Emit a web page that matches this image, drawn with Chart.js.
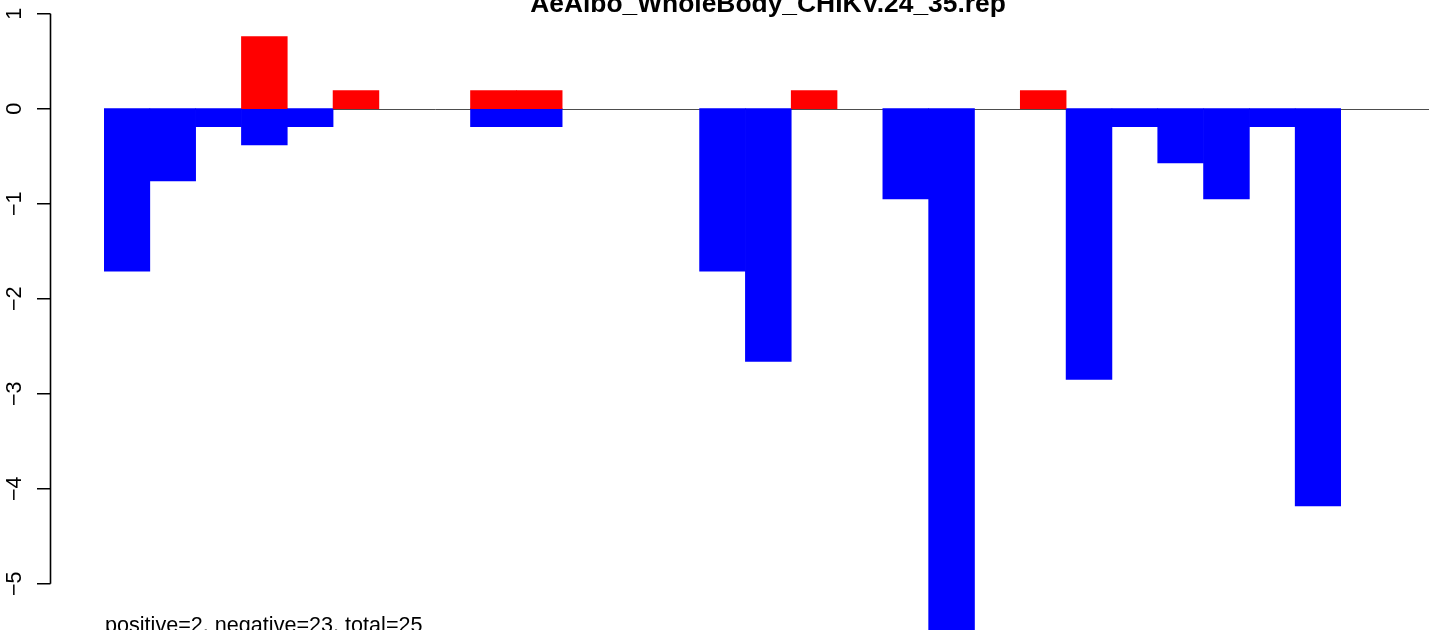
<!DOCTYPE html>
<html>
<head>
<meta charset="utf-8">
<script src="https://cdn.jsdelivr.net/npm/chart.js@4/dist/chart.umd.min.js"></script>
<style>
  html, body { margin: 0; padding: 0; background: #fff; }
  #wrap { width: 1429px; height: 630px; }
</style>
</head>
<body>
<div id="wrap"><canvas id="repChart" width="1429" height="630"></canvas></div>
<script>
const titulo = "AeAlbo_WholeBody_CHIKV.24_35.rep";
const resumen = "positive=2, negative=23, total=25";
const posiciones = [
  "1", "2", "3", "4", "5", "6", "7", "8", "9", "10", "11", "12", "13", "14",
  "15", "16", "17", "18", "19", "20", "21", "22", "23", "24", "25", "26", "27",
];
const positivos = [
  null, null, null, 0.76, null, 0.19, null, null, 0.19, 0.19, null, null, null, null,
  null, 0.19, null, null, null, null, 0.19, null, null, null, null, null, null,
];
const negativos = [
  -1.71, -0.76, -0.19, -0.38, -0.19, null, null, null, -0.19, -0.19, null, null, null, -1.71,
  -2.66, null, null, -0.95, -5.7, null, null, -2.85, -0.19, -0.57, -0.95, -0.19, -4.18,
];
const yTicks = [-5, -4, -3, -2, -1, 0, 1];

const fuente = "'Liberation Sans', Arial, Helvetica, sans-serif";

// ejes estilo R, titulo y texto inferior
const ejesR = {
  id: "ejesR",
  beforeDatasetsDraw(chart) {
    const { ctx, scales } = chart;
    const y0 = Math.round(scales.y.getPixelForValue(0)) + 0.5;
    ctx.save();
    ctx.strokeStyle = "#4d4d4d";
    ctx.lineWidth = 1;
    ctx.beginPath();
    ctx.moveTo(chart.chartArea.left, y0);
    ctx.lineTo(chart.width, y0);
    ctx.stroke();
    ctx.restore();
  },
  afterDraw(chart) {
    const { ctx, scales } = chart;
    const y = scales.y;
    const ejeX = 50.5;
    ctx.save();
    ctx.strokeStyle = "#000";
    ctx.lineWidth = 1.6;
    ctx.beginPath();
    ctx.moveTo(ejeX, y.getPixelForValue(yTicks[yTicks.length - 1]));
    ctx.lineTo(ejeX, y.getPixelForValue(yTicks[0]));
    yTicks.forEach((t) => {
      const py = y.getPixelForValue(t);
      ctx.moveTo(ejeX, py);
      ctx.lineTo(37, py);
    });
    ctx.stroke();

    ctx.fillStyle = "#000";
    ctx.font = "21.6px " + fuente;
    ctx.textAlign = "center";
    ctx.textBaseline = "alphabetic";
    yTicks.forEach((t) => {
      const py = y.getPixelForValue(t);
      ctx.save();
      ctx.translate(21, py);
      ctx.rotate(-Math.PI / 2);
      ctx.fillText(String(t).replace("-", "\u2212"), 0, 0);
      ctx.restore();
    });

    ctx.font = "bold 26.4px " + fuente;
    ctx.textAlign = "center";
    ctx.fillText(titulo, 768, 12);

    ctx.font = "21.6px " + fuente;
    ctx.textAlign = "left";
    ctx.fillText(resumen, 105, 632);
    ctx.restore();
  },
};

new Chart(document.getElementById("repChart"), {
  type: "bar",
  data: {
    labels: posiciones,
    datasets: [
      { data: positivos, backgroundColor: "#ff0000", borderWidth: 0 },
      { data: negativos, backgroundColor: "#0000ff", borderWidth: 0 },
    ],
  },
  options: {
    responsive: false,
    animation: false,
    devicePixelRatio: 1,
    categoryPercentage: 1,
    barPercentage: 1,
    layout: { padding: { left: 104, right: 88, top: 0, bottom: 0 } },
    plugins: { legend: { display: false }, tooltip: { enabled: false } },
    scales: {
      x: { display: false, stacked: true },
      y: { display: false, stacked: true, min: -5.4874, max: 1.1442 },
    },
  },
  plugins: [ejesR],
});
</script>
</body>
</html>
